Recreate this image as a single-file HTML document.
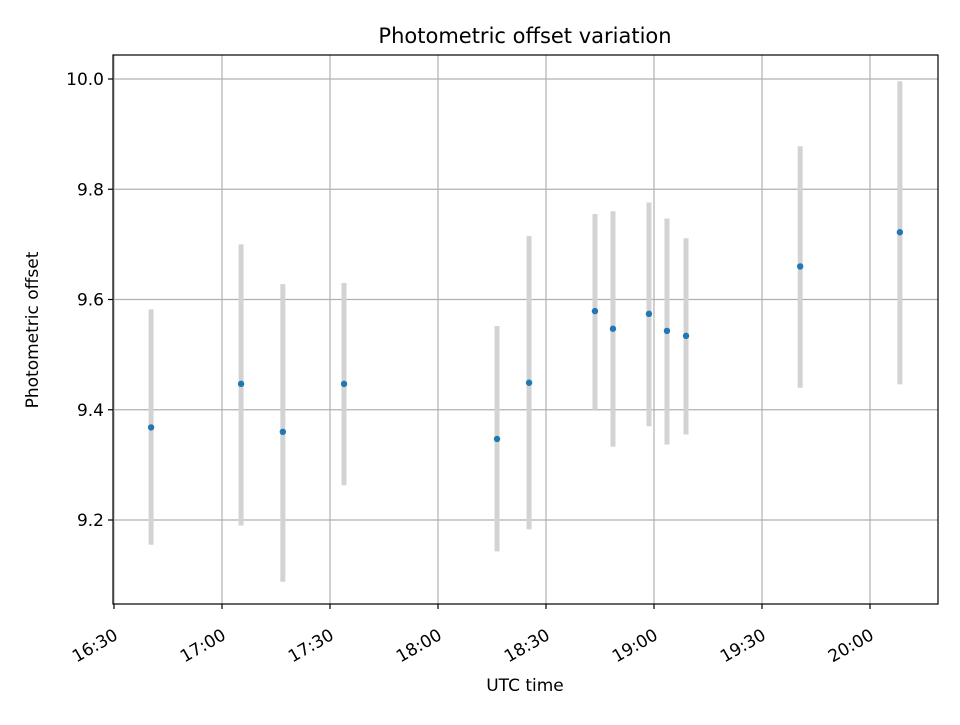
<!DOCTYPE html>
<html><head><meta charset="utf-8"><style>
body{margin:0;background:#fff;}
svg text{font-family:"DejaVu Sans","Liberation Sans",sans-serif;fill:#000;}
</style></head><body>
<svg id="chart" width="960" height="720">
<rect width="960" height="720" fill="#fff"/>
<g id="grid"></g>
<g id="errs"></g>
<g id="pts"></g>
<rect x="113" y="55" width="825" height="549" fill="none" stroke="#000" stroke-width="1.2"/>
<g id="ticks"></g>
<text x="525" y="43" font-size="21" text-anchor="middle">Photometric offset variation</text>
<text x="525" y="691" font-size="17" text-anchor="middle">UTC time</text>
<text transform="translate(38,330) rotate(-90)" font-size="17" text-anchor="middle">Photometric offset</text>
</svg>
<script>
const times=[10.3,35.3,46.9,63.9,106.4,115.3,133.6,138.6,148.6,153.6,158.9,190.6,218.3];
const values=[9.368,9.447,9.36,9.447,9.347,9.449,9.579,9.547,9.574,9.543,9.534,9.66,9.722];
const errLow=[9.155,9.19,9.088,9.263,9.143,9.183,9.40,9.333,9.37,9.337,9.355,9.44,9.446];
const errHigh=[9.582,9.70,9.628,9.630,9.552,9.715,9.755,9.76,9.776,9.747,9.711,9.878,9.996];
const yTicks=[9.2,9.4,9.6,9.8,10.0];
const xTickMin=[0,30,60,90,120,150,180,210];
const xTickLabels=["16:30","17:00","17:30","18:00","18:30","19:00","19:30","20:00"];
const NS="http://www.w3.org/2000/svg";
function X(m){return 114+m*3.6;}
function Y(v){return 79+(10-v)*551.25;}
function mk(p,tag,a){const e=document.createElementNS(NS,tag);for(const k in a)e.setAttribute(k,a[k]);document.getElementById(p).appendChild(e);return e;}
yTicks.forEach((v,i)=>{
 let g=mk('grid','line',{x1:113,x2:938,y1:Y(v),y2:Y(v),stroke:'#b0b0b0','stroke-width':1.2});
 
 
 let t=mk('ticks','line',{x1:108,x2:113,y1:Y(v),y2:Y(v),stroke:'#000','stroke-width':1.2});
 
 
 let l=mk('ticks','text',{x:104,y:Y(v)+6,'font-size':17,'text-anchor':'end'});
 l.textContent=v.toFixed(1);
 
 
});
xTickMin.forEach((m,i)=>{
 let g=mk('grid','line',{x1:X(m),x2:X(m),y1:55,y2:604,stroke:'#b0b0b0','stroke-width':1.2});
 
 
 let t=mk('ticks','line',{x1:X(m),x2:X(m),y1:604,y2:609,stroke:'#000','stroke-width':1.2});
 
 
 let l=mk('ticks','text',{transform:`translate(${X(m)-1},628) rotate(-30)`,'font-size':17,'text-anchor':'end',dy:'0.7em'});
 l.textContent=xTickLabels[i];
 
 
});
times.forEach((m,i)=>{
 let e=mk('errs','line',{x1:X(m),x2:X(m),y1:Y(errHigh[i]),y2:Y(errLow[i]),stroke:'#d3d3d3','stroke-width':5});
 
 
 let c=mk('pts','circle',{cx:X(m),cy:Y(values[i]),r:3.2,fill:'#1f77b4'});
 
 
});
</script>
</body></html>
